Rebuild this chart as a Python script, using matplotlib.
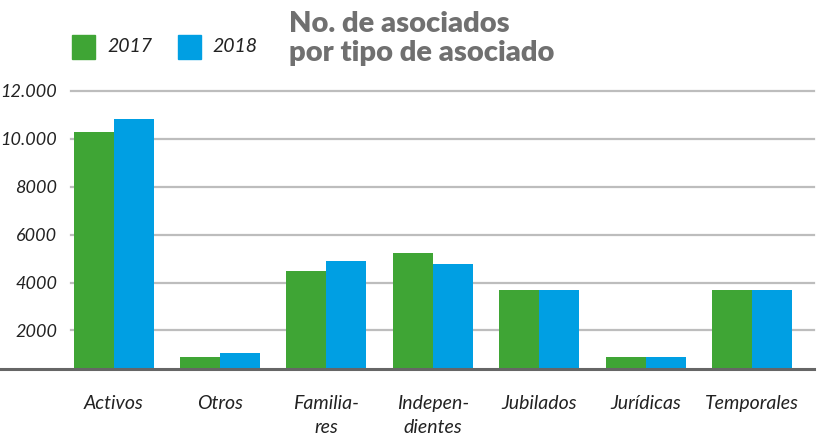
import numpy as np
import matplotlib
matplotlib.use('Agg')
import matplotlib.pyplot as plt
from matplotlib.patches import Rectangle

plt.rcParams['font.family'] = ['Lato', 'DejaVu Sans']

# data
categories = ['Activos', 'Otros', 'Familia-\nres', 'Indepen-\ndientes',
              'Jubilados', 'Jurídicas', 'Temporales']
values_2017 = [10300, 880, 4470, 5220, 3680, 890, 3680]
values_2018 = [10850, 1050, 4890, 4760, 3680, 890, 3680]
yticks = [2000, 4000, 6000, 8000, 10000, 12000]
ytick_labels = ['2000', '4000', '6000', '8000', '10.000', '12.000']

green = '#3fa535'
blue = '#009fe3'

W, H = 817, 445
fig = plt.figure(figsize=(W / 100, H / 100), dpi=100)
ax = fig.add_axes([71 / W, (H - 369) / H, (814 - 71) / W, (369 - 91) / H])

x = np.arange(len(categories))
bw = 0.376
ax.bar(x - bw / 2, values_2017, bw, color=green, zorder=3)
ax.bar(x + bw / 2, values_2018, bw, color=blue, zorder=3)

ymin = 390
ax.set_ylim(ymin, 12000)
ax.set_xlim(-0.40, 6.58)

for t in yticks:
    ax.axhline(t, color='#bdbdbd', lw=1.6, zorder=1, clip_on=False)
# baseline runs out to the left edge of the figure
ax.axhline(ymin, xmin=-71 / (814 - 71), xmax=1, color='#666666', lw=2.2,
           zorder=4, clip_on=False)

for s in ax.spines.values():
    s.set_visible(False)

ax.set_yticks(yticks)
ax.set_yticklabels(ytick_labels, fontsize=13, fontstyle='italic', color='#222222')
ax.tick_params(axis='y', length=0, pad=10)
ax.set_xticks(x)
ax.set_xticklabels(categories, fontsize=14, fontstyle='italic', color='#222222',
                   linespacing=1.45)
ax.tick_params(axis='x', length=0, pad=19)

# legend
fig.patches.append(Rectangle((72 / W, (H - 59) / H), 23 / W, 24 / H,
                             transform=fig.transFigure, color=green))
fig.patches.append(Rectangle((178 / W, (H - 59) / H), 23 / W, 24 / H,
                             transform=fig.transFigure, color=blue))
fig.text(107 / W, (H - 47) / H, '2017', fontsize=14, fontstyle='italic',
         color='#222222', va='center', ha='left')
fig.text(212 / W, (H - 47) / H, '2018', fontsize=14, fontstyle='italic',
         color='#222222', va='center', ha='left')

fig.text(289 / W, (H - 11) / H, 'No. de asociados\npor tipo de asociado',
         fontsize=21, fontweight='heavy', color='#707070', va='top', ha='left',
         linespacing=1.12)

fig.savefig('out.png', dpi=100)
